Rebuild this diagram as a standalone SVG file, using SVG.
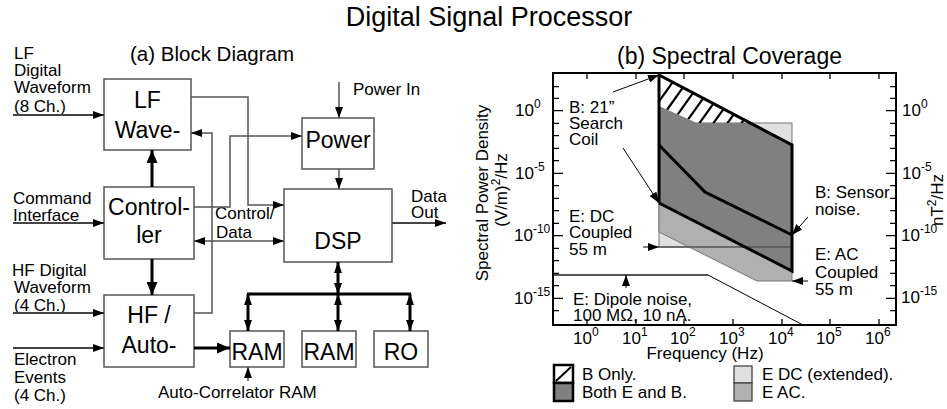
<svg xmlns="http://www.w3.org/2000/svg" width="947" height="409" viewBox="0 0 947 409">
<defs>
<style>
text{font-family:"Liberation Sans",Arial,sans-serif;fill:#000}
.t{font-size:17px}
.blk{font-size:23px;text-anchor:middle}
.box{fill:#fff;stroke:#555;stroke-width:1.5}
.c{fill:none;stroke:#555;stroke-width:1.5}
.in{fill:none;stroke:#444;stroke-width:2}
.thk{fill:none;stroke:#000;stroke-width:3}
.ax{fill:none;stroke:#000;stroke-width:2}
.tk{stroke:#000;stroke-width:1.3}
.sup{font-size:12px}
.tl{fill:none;stroke:#000;stroke-width:3;stroke-linejoin:miter}
</style>
<marker id="a" markerUnits="userSpaceOnUse" markerWidth="11" markerHeight="8" refX="11" refY="4" orient="auto-start-reverse"><path d="M0,0 L11,4 L0,8 z" fill="#000"/></marker>
<marker id="ab" markerUnits="userSpaceOnUse" markerWidth="13" markerHeight="11" refX="13" refY="5.5" orient="auto-start-reverse"><path d="M0,0 L13,5.5 L0,11 z" fill="#000"/></marker>
<clipPath id="hc"><polygon points="659,75 750,123 697,123 659,106"/></clipPath>
</defs>

<text x="489" y="26" style="font-size:27px" text-anchor="middle">Digital Signal Processor</text>
<text x="130" y="61" style="font-size:20.5px">(a) Block Diagram</text>
<text x="617" y="64" style="font-size:23px">(b) Spectral Coverage</text>

<g id="labels-in">
<text class="t" x="14" y="59">LF</text>
<text class="t" x="14" y="76">Digital</text>
<text class="t" x="14" y="93">Waveform</text>
<text class="t" x="14" y="112">(8 Ch.)</text>
<text class="t" x="13" y="204">Command</text>
<text class="t" x="13" y="221">Interface</text>
<text class="t" x="12" y="276">HF Digital</text>
<text class="t" x="14" y="293">Waveform</text>
<text class="t" x="14" y="311">(4 Ch.)</text>
<text class="t" x="14" y="365">Electron</text>
<text class="t" x="14" y="383">Events</text>
<text class="t" x="14" y="401">(4 Ch.)</text>
<text class="t" x="158" y="398">Auto-Correlator RAM</text>
<text class="t" x="353" y="95">Power In</text>
<text class="t" x="411" y="202">Data</text>
<text class="t" x="411" y="218">Out</text>
<text class="t" x="215" y="219">Control/</text>
<text class="t" x="216" y="238">Data</text>
</g>

<g id="lf"><rect class="box" x="104" y="79" width="87" height="71"/><text class="blk" x="147.5" y="108">LF</text><text class="blk" x="147.5" y="138">Wave-</text></g>
<g id="ctrl"><rect class="box" x="104" y="187" width="90" height="72"/><text class="blk" x="149" y="215">Control-</text><text class="blk" x="149" y="243">ler</text></g>
<g id="hf"><rect class="box" x="104" y="295" width="90" height="72"/><text class="blk" x="149" y="323">HF /</text><text class="blk" x="149" y="353">Auto-</text></g>
<g id="power"><rect class="box" x="302" y="118" width="72" height="51"/><text class="blk" x="338" y="148">Power</text></g>
<g id="dsp"><rect class="box" x="284" y="189" width="108" height="73"/><text class="blk" x="338" y="249">DSP</text></g>
<g id="ram1"><rect class="box" x="230" y="331" width="54" height="36"/><text class="blk" x="257" y="360">RAM</text></g>
<g id="ram2"><rect class="box" x="302" y="331" width="54" height="36"/><text class="blk" x="329" y="360">RAM</text></g>
<g id="ro"><rect class="box" x="374" y="331" width="54" height="36"/><text class="blk" x="401" y="360">RO</text></g>

<g id="connectors">
<polyline class="c" points="191,97 248,97 248,205 284,205" marker-end="url(#a)"/>
<polyline class="c" points="194,207 230,207 230,136 302,136" marker-end="url(#a)"/>
<polyline class="c" points="194,313 212,313 212,133 191,133" marker-end="url(#a)"/>
<line class="c" x1="194" y1="241" x2="284" y2="241" marker-start="url(#a)" marker-end="url(#a)"/>
<line class="c" x1="339" y1="82" x2="339" y2="118" marker-end="url(#a)"/>
<line class="c" x1="339" y1="169" x2="339" y2="189" marker-end="url(#a)"/>
<line class="in" x1="392" y1="223" x2="446" y2="223" marker-end="url(#a)"/>
<line class="in" x1="13" y1="115" x2="104" y2="115" marker-end="url(#a)"/>
<line class="in" x1="13" y1="223" x2="104" y2="223" marker-end="url(#a)"/>
<line class="in" x1="13" y1="313" x2="104" y2="313" marker-end="url(#a)"/>
<line class="in" x1="13" y1="348" x2="104" y2="348" marker-end="url(#a)"/>
<line class="thk" x1="152" y1="187" x2="152" y2="150" marker-end="url(#ab)"/>
<line class="thk" x1="152" y1="259" x2="152" y2="295" marker-end="url(#ab)"/>
<line class="thk" x1="194" y1="348" x2="230" y2="348" marker-end="url(#ab)"/>
<line class="thk" x1="247" y1="294" x2="411" y2="294"/>
<line class="thk" x1="338" y1="262" x2="338" y2="294" marker-start="url(#a)" marker-end="url(#a)"/>
<line class="thk" x1="248" y1="294" x2="248" y2="331" marker-start="url(#a)" marker-end="url(#a)"/>
<line class="thk" x1="338" y1="294" x2="338" y2="331" marker-start="url(#a)" marker-end="url(#a)"/>
<line class="thk" x1="410" y1="294" x2="410" y2="331" marker-start="url(#a)" marker-end="url(#a)"/>
<line class="c" x1="248" y1="381" x2="248" y2="367" marker-end="url(#a)"/>
</g>

<g id="chart">
<rect x="659" y="123" width="133" height="124" fill="#e0e0e0" stroke="#777" stroke-width="1"/>
<polygon points="659,203 792,271 792,281 757,281 659,232" fill="#b0b0b0" stroke="#777" stroke-width="1"/>
<polygon points="659,106 697,123 750,123 792,145 792,271 659,203" fill="#808080"/>
<line x1="659" y1="247" x2="792" y2="247" stroke="#555" stroke-width="1.5"/>
<g clip-path="url(#hc)" stroke="#000" stroke-width="2.2">
<line x1="640" y1="128" x2="680" y2="72"/>
<line x1="654" y1="128" x2="694" y2="72"/>
<line x1="668" y1="128" x2="708" y2="72"/>
<line x1="682" y1="128" x2="722" y2="72"/>
<line x1="696" y1="128" x2="736" y2="72"/>
<line x1="710" y1="128" x2="750" y2="72"/>
<line x1="724" y1="128" x2="764" y2="72"/>
<line x1="738" y1="128" x2="778" y2="72"/>
</g>
<polyline class="tl" points="659,203 659,75 792,145 792,271 659,203"/>
<polyline class="tl" points="659,145 705,192 792,235" fill="none"/>
<line x1="553" y1="275" x2="708" y2="275" stroke="#555" stroke-width="2"/>
<line x1="708" y1="275" x2="803" y2="325" stroke="#000" stroke-width="1"/>

<rect class="ax" x="553" y="73" width="343" height="252"/>
<g class="tk">
<path d="M553,86.7h6M553,98.3h6M553,110.7h10M553,123.3h6M553,135.7h6M553,148.3h6M553,160.7h6M553,173.3h10M553,185.7h6M553,198.3h6M553,210.7h6M553,223.3h6M553,235.7h10M553,248.3h6M553,260.7h6M553,273.3h6M553,285.7h6M553,298.3h10M553,310.7h6"/>
<path d="M896,86.7h-6M896,98.3h-6M896,110.7h-10M896,123.3h-6M896,135.7h-6M896,148.3h-6M896,160.7h-6M896,173.3h-10M896,185.7h-6M896,198.3h-6M896,210.7h-6M896,223.3h-6M896,235.7h-10M896,248.3h-6M896,260.7h-6M896,273.3h-6M896,285.7h-6M896,298.3h-10M896,310.7h-6"/>
<path d="M587,73v6M636,73v6M684,73v6M733,73v6M782,73v6M830,73v6M879,73v6"/>
<path d="M587,325v-6M636,325v-6M684,325v-6M733,325v-6M782,325v-6M830,325v-6M879,325v-6"/>
</g>

<g style="font-size:17px">
<text x="515" y="116">10<tspan class="sup" dy="-8">0</tspan></text>
<text x="515" y="179">10<tspan class="sup" dy="-8">-5</tspan></text>
<text x="514" y="241">10<tspan class="sup" dy="-8">-10</tspan></text>
<text x="514" y="304">10<tspan class="sup" dy="-8">-15</tspan></text>
<text x="902" y="116">10<tspan class="sup" dy="-8">0</tspan></text>
<text x="902" y="179">10<tspan class="sup" dy="-8">-5</tspan></text>
<text x="901" y="241">10<tspan class="sup" dy="-8">-10</tspan></text>
<text x="901" y="303">10<tspan class="sup" dy="-8">-15</tspan></text>
<text x="573" y="344">10<tspan class="sup" dy="-8">0</tspan></text>
<text x="622" y="344">10<tspan class="sup" dy="-8">1</tspan></text>
<text x="670" y="344">10<tspan class="sup" dy="-8">2</tspan></text>
<text x="719" y="344">10<tspan class="sup" dy="-8">3</tspan></text>
<text x="768" y="344">10<tspan class="sup" dy="-8">4</tspan></text>
<text x="816" y="344">10<tspan class="sup" dy="-8">5</tspan></text>
<text x="865" y="344">10<tspan class="sup" dy="-8">6</tspan></text>
</g>
<text class="t" x="705" y="359" text-anchor="middle">Frequency (Hz)</text>
<text class="t" transform="translate(488,193) rotate(-90)" text-anchor="middle">Spectral Power Density</text>
<text class="t" transform="translate(507,190) rotate(-90)" text-anchor="middle">(V/m)<tspan class="sup" dy="-7">2</tspan><tspan dy="7">/Hz</tspan></text>
<text class="t" transform="translate(943,200) rotate(-90)" text-anchor="middle">nT<tspan class="sup" dy="-7">2</tspan><tspan dy="7">/Hz</tspan></text>

<text class="t" x="569" y="113">B: 21”</text>
<text class="t" x="569" y="129">Search</text>
<text class="t" x="569" y="145">Coil</text>
<text class="t" x="569" y="222">E: DC</text>
<text class="t" x="569" y="238">Coupled</text>
<text class="t" x="569" y="255">55 m</text>
<text class="t" x="815" y="198">B: Sensor</text>
<text class="t" x="815" y="215">noise.</text>
<text class="t" x="815" y="260">E: AC</text>
<text class="t" x="815" y="278">Coupled</text>
<text class="t" x="815" y="295">55 m</text>
<text class="t" x="573" y="305">E: Dipole noise,</text>
<text class="t" x="573" y="321">100 MΩ, 10 nA.</text>

<line x1="613" y1="92" x2="659" y2="75" stroke="#000" stroke-width="1" marker-end="url(#a)"/>
<line x1="623" y1="148" x2="659" y2="203" stroke="#000" stroke-width="1" marker-end="url(#a)"/>
<line x1="808" y1="217" x2="792" y2="235" stroke="#000" stroke-width="1" marker-end="url(#a)"/>
<line x1="808" y1="281" x2="792" y2="281" stroke="#000" stroke-width="1" marker-end="url(#a)"/>
<line x1="643" y1="247" x2="659" y2="247" stroke="#000" stroke-width="1" marker-end="url(#a)"/>
<line x1="626" y1="288" x2="626" y2="275" stroke="#000" stroke-width="1" marker-end="url(#a)"/>
</g>

<g id="legend">
<rect x="554" y="365" width="19" height="18" fill="#fff" stroke="#000" stroke-width="2.5"/>
<line x1="556" y1="381" x2="571" y2="367" stroke="#000" stroke-width="2"/>
<rect x="554" y="383" width="19" height="18" fill="#808080" stroke="#000" stroke-width="2.5"/>
<text class="t" x="582" y="380">B Only.</text>
<text class="t" x="582" y="398">Both E and B.</text>
<rect x="734" y="366" width="18" height="17" fill="#e0e0e0" stroke="#444" stroke-width="1.3"/>
<rect x="734" y="383" width="18" height="18" fill="#b0b0b0" stroke="#444" stroke-width="1.3"/>
<text class="t" x="762" y="380">E DC (extended).</text>
<text class="t" x="762" y="398">E AC.</text>
</g>
</svg>
